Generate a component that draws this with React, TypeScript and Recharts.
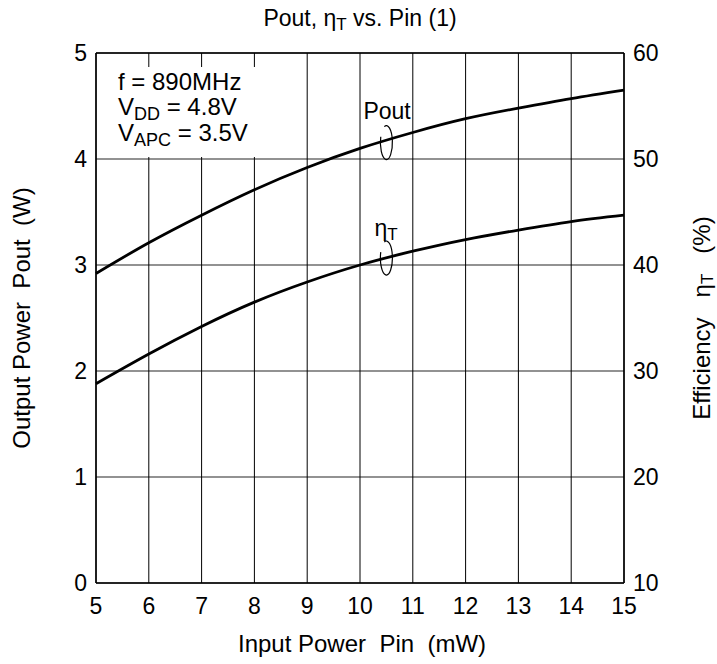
import { CartesianGrid, Line, LineChart, ReferenceDot, ReferenceLine, XAxis, YAxis } from "recharts";

const W = 717;
const H = 664;
const FONT = '"Liberation Sans", Arial, Helvetica, sans-serif';

// Input power Pin (mW)
const pin = [5, 6, 7, 8, 9, 10, 11, 12, 13, 14, 15];
// Output power Pout (W), left axis
const pout = [2.92, 3.21, 3.47, 3.71, 3.92, 4.1, 4.25, 4.38, 4.48, 4.57, 4.65];
// Efficiency ηT (%), right axis
const eff = [28.8, 31.6, 34.2, 36.5, 38.4, 40.0, 41.3, 42.4, 43.3, 44.1, 44.7];

const xTicks = [5, 6, 7, 8, 9, 10, 11, 12, 13, 14, 15];
const leftTicks = [0, 1, 2, 3, 4, 5];
const rightTicks = [10, 20, 30, 40, 50, 60];

const data = pin.map((p, i) => ({ pin: p, pout: pout[i], eff: eff[i] }));

const tickStyle = { fontSize: 23, fill: "#000", fontFamily: FONT };

function Bracket({ cx, cy, label }: { cx?: number; cy?: number; label: "pout" | "eff" }) {
  if (cx == null || cy == null) return null;
  const rx = 6;
  const ry = 17;
  const a1 = (250 * Math.PI) / 180;
  const a2 = (200 * Math.PI) / 180;
  const d = `M ${cx + rx * Math.cos(a1)} ${cy + ry * Math.sin(a1)} A ${rx} ${ry} 0 1 1 ${cx + rx * Math.cos(a2)} ${cy + ry * Math.sin(a2)}`;
  return (
    <g>
      <path d={d} fill="none" stroke="#000" strokeWidth={1.2} />
      {label === "pout" ? (
        <text x={cx - 23} y={cy - 24} fontSize={23} fontFamily={FONT} fill="#000">
          Pout
        </text>
      ) : (
        <text x={cx - 12} y={cy - 22} fontSize={23} fontFamily={FONT} fill="#000">
          η<tspan fontSize={17} dy={4}>T</tspan>
        </text>
      )}
    </g>
  );
}

// condition block in the top-left corner, on a white patch that hides the grid
function Conditions({ cx, cy }: { cx?: number; cy?: number }) {
  if (cx == null || cy == null) return null;
  const x = cx + 22;
  return (
    <g fontFamily={FONT} fontSize={24} fill="#000">
      <rect x={cx + 2} y={cy + 14} width={172} height={90} fill="#fff" />
      <text x={x} y={cy + 37}>f = 890MHz</text>
      <text x={x} y={cy + 62}>
        V<tspan fontSize={18} dy={5}>DD</tspan>
        <tspan dy={-5}> = 4.8V</tspan>
      </text>
      <text x={x} y={cy + 88}>
        V<tspan fontSize={18} dy={5}>APC</tspan>
        <tspan dy={-5}> = 3.5V</tspan>
      </text>
    </g>
  );
}

export default function App() {
  return (
    <div style={{ position: "absolute", left: 0, top: 0, width: W, height: H, background: "#fff" }}>
      <LineChart width={W} height={H} data={data} margin={{ top: 53, right: 33, bottom: 41, left: 36 }}>
        <CartesianGrid yAxisId="left" vertical={false} stroke="#6e6e6e" strokeWidth={1.4} />
        <CartesianGrid yAxisId="left" horizontal={false} stroke="#000" strokeWidth={1} />
        <XAxis
          dataKey="pin"
          type="number"
          domain={[5, 15]}
          ticks={xTicks}
          height={40}
          tickLine={false}
          tickSize={0}
          tickMargin={15}
          axisLine={{ stroke: "#000", strokeWidth: 1.5 }}
          tick={tickStyle}
        />
        <YAxis
          yAxisId="left"
          domain={[0, 5]}
          ticks={leftTicks}
          width={60}
          tickLine={false}
          tickSize={0}
          tickMargin={9}
          axisLine={{ stroke: "#000", strokeWidth: 1.5 }}
          tick={tickStyle}
        />
        <YAxis
          yAxisId="right"
          orientation="right"
          domain={[10, 60]}
          ticks={rightTicks}
          width={60}
          tickLine={false}
          tickSize={0}
          tickMargin={9}
          axisLine={{ stroke: "#000", strokeWidth: 1.5 }}
          tick={tickStyle}
        />
        <ReferenceLine yAxisId="left" y={5} stroke="#000" strokeWidth={1.5} />
        <ReferenceDot yAxisId="left" x={5} y={5} shape={(p: any) => <Conditions {...p} />} />
        <Line
          yAxisId="left"
          type="natural"
          dataKey="pout"
          stroke="#000"
          strokeWidth={2.8}
          dot={false}
          isAnimationActive={false}
        />
        <Line
          yAxisId="right"
          type="natural"
          dataKey="eff"
          stroke="#000"
          strokeWidth={2.8}
          dot={false}
          isAnimationActive={false}
        />
        <ReferenceDot yAxisId="left" x={10.5} y={4.155} shape={(p: any) => <Bracket {...p} label="pout" />} />
        <ReferenceDot yAxisId="right" x={10.5} y={40.66} shape={(p: any) => <Bracket {...p} label="eff" />} />
      </LineChart>
      <svg
        width={W}
        height={H}
        style={{ position: "absolute", left: 0, top: 0, pointerEvents: "none" }}
        fontFamily={FONT}
        fill="#000"
      >
        <text x={360} y={26} fontSize={23} textAnchor="middle">
          Pout, η<tspan fontSize={17} dy={4}>T</tspan>
          <tspan dy={-4}> vs. Pin (1)</tspan>
        </text>
        <text x={362} y={652} fontSize={24} textAnchor="middle" style={{ whiteSpace: "pre" }}>
          {"Input Power  Pin  (mW)"}
        </text>
        <text
          transform="translate(30 318) rotate(-90)"
          fontSize={24}
          textAnchor="middle"
          style={{ whiteSpace: "pre" }}
        >
          {"Output Power  Pout  (W)"}
        </text>
        <text
          transform="translate(710 318) rotate(-90)"
          fontSize={24}
          textAnchor="middle"
          style={{ whiteSpace: "pre" }}
        >
          {"Efficiency   η"}
          <tspan fontSize={17} dy={3}>T</tspan>
          <tspan dy={-3}>{"   (%)"}</tspan>
        </text>
      </svg>
    </div>
  );
}
